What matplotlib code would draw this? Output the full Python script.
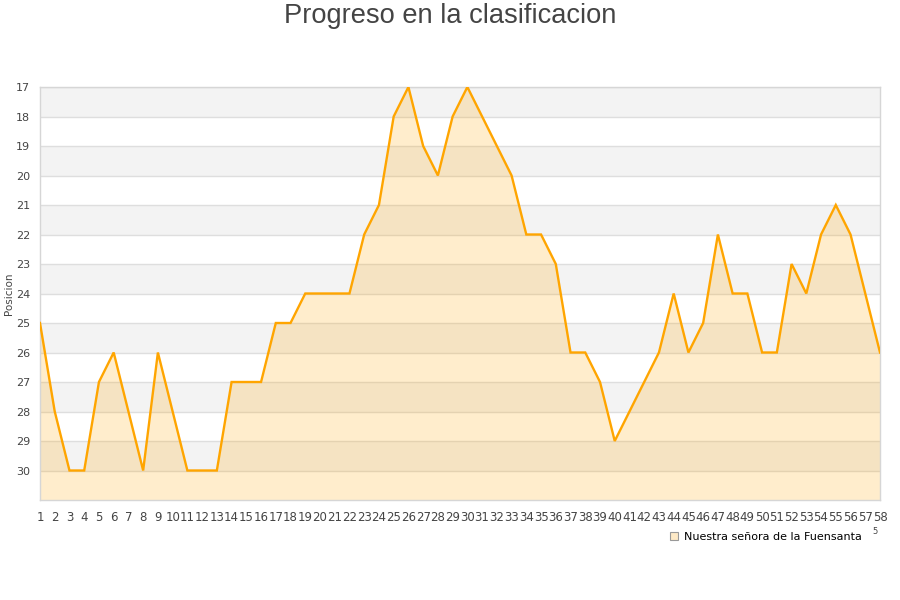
import matplotlib
matplotlib.use("Agg")
import matplotlib.pyplot as plt
from matplotlib.lines import Line2D

title = "Progreso en la clasificacion"
series_name = "Nuestra señora de la Fuensanta"
ylabel = "Posicion"

jornadas = list(range(1, 59))
posiciones = [25, 28, 30, 30, 27, 26, 28, 30, 26, 28,
              30, 30, 30, 27, 27, 27, 25, 25, 24, 24,
              24, 24, 22, 21, 18, 17, 19, 20, 18, 17,
              18, 19, 20, 22, 22, 23, 26, 26, 27, 29,
              28, 27, 26, 24, 26, 25, 22, 24, 24, 26,
              26, 23, 24, 22, 21, 22, 24, 26]
y_ticks = list(range(17, 31))

plt.rcParams['font.family'] = ['DejaVu Sans']

fig = plt.figure(figsize=(9, 6), dpi=100)
ax = fig.add_axes([40/900, 1-500/600, 840/900, 413/600])

ymin, ymax = 17, 31
# alternating background bands
for k, v in enumerate(range(ymin, ymax)):
    if k % 2 == 0:
        ax.axhspan(v, v + 1, color='#f3f3f3', zorder=0, lw=0)

for v in y_ticks:
    ax.axhline(v, color='#dedede', lw=1, zorder=1)

ax.fill_between(jornadas, posiciones, ymax, color='#ffa500', alpha=0.2, lw=0, zorder=2)
ax.plot(jornadas, posiciones, color='#ffa500', lw=1.7, zorder=3, solid_joinstyle='miter')

ax.set_xlim(1, 58)
ax.set_ylim(ymax, ymin)
ax.set_yticks(y_ticks)
ax.set_xticks(jornadas)
ax.set_xticklabels([str(j) for j in jornadas])
ax.tick_params(axis='both', length=0, colors='#444444')
ax.tick_params(axis='x', pad=8, labelsize=8.5)
ax.tick_params(axis='y', pad=7, labelsize=8)
for s in ax.spines.values():
    s.set_color('#d6d6d6')
    s.set_linewidth(1)

ax.set_ylabel(ylabel, fontsize=7.5, color='#444444')
ax.yaxis.set_label_coords(-0.031, 0.5)

fig.text(0.5, 1-16/600, title, ha='center', va='center', fontsize=19.6,
         color='#444444', family=['Liberation Sans', 'DejaVu Sans'])

handle = Line2D([], [], marker='s', linestyle='none', markersize=6,
                markerfacecolor='#fde9c6', markeredgecolor='#999999', markeredgewidth=0.8)
fig.legend([handle], [series_name], loc='center', bbox_to_anchor=(765/900, 1-537/600),
           frameon=False, fontsize=8, handletextpad=0.4, borderpad=0, handlelength=1)
fig.text(875/900, 1-532/600, "5", fontsize=6, color='#444444', ha='center', va='center')

fig.savefig("out.png", dpi=100)
